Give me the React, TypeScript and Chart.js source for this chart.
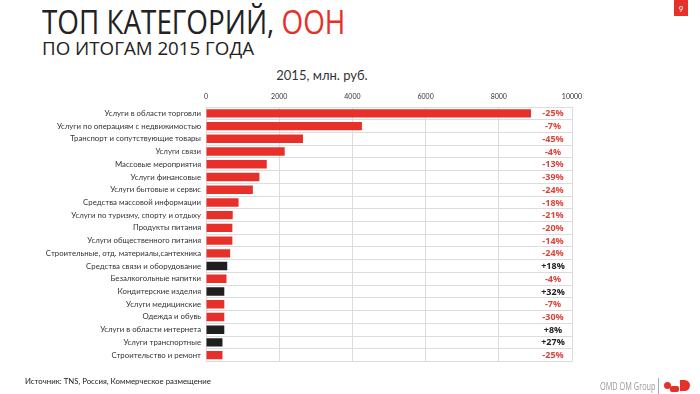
import React, { useEffect, useRef } from "react";
import { Chart, registerables } from "chart.js";

Chart.register(...registerables);

const categories = [
  "Услуги в области торговли",
  "Услуги по операциям с недвижимостью",
  "Транспорт и сопутствующие товары",
  "Услуги связи",
  "Массовые мероприятия",
  "Услуги финансовые",
  "Услуги бытовые и сервис",
  "Средства массовой информации",
  "Услуги по туризму, спорту и отдыху",
  "Продукты питания",
  "Услуги общественного питания",
  "Строительные, отд. материалы,сантехника",
  "Средства связи и оборудование",
  "Безалкогольные напитки",
  "Кондитерские изделия",
  "Услуги медицинские",
  "Одежда и обувь",
  "Услуги в области интернета",
  "Услуги транспортные",
  "Строительство и ремонт",
];

const values2015 = [8880, 4260, 2650, 2150, 1660, 1460, 1280, 890, 730, 720, 720, 660, 580, 560, 500, 500, 500, 500, 450, 450];

const changes = [-25, -7, -45, -4, -13, -39, -24, -18, -21, -20, -14, -24, 18, -4, 32, -7, -30, 8, 27, -25];

const xTicks = [0, 2000, 4000, 6000, 8000, 10000];

const RED = "#e8302a";
const DARK = "#1f1f1f";
const FONT = "Lato, 'Liberation Sans', sans-serif";

const labelPlugin = {
  id: "changeLabels",
  afterDatasetsDraw(chart: any) {
    const { ctx, chartArea, scales } = chart;
    ctx.save();
    ctx.font = `bold 9px 'Open Sans', sans-serif`;
    ctx.textAlign = "center";
    ctx.textBaseline = "middle";
    changes.forEach((c, i) => {
      const y = scales.y.getPixelForValue(i);
      ctx.fillStyle = c > 0 ? "#222222" : "#d9443b";
      ctx.fillText((c > 0 ? "+" : "") + c + "%", chartArea.right - 19, y + 0.5);
    });
    ctx.restore();
  },
};

function BarChart() {
  const ref = useRef<HTMLCanvasElement>(null);
  useEffect(() => {
    const chart = new Chart(ref.current!, {
      type: "bar",
      data: {
        labels: categories,
        datasets: [
          {
            data: values2015,
            backgroundColor: changes.map((c) => (c > 0 ? DARK : RED)),
            barPercentage: 0.66,
            categoryPercentage: 1,
          },
        ],
      },
      options: {
        indexAxis: "y",
        animation: false,
        responsive: false,
        maintainAspectRatio: false,
        layout: { padding: { left: 0, right: 128, top: 87, bottom: 32.5 } },
        plugins: { legend: { display: false }, tooltip: { enabled: false } },
        scales: {
          x: {
            position: "top",
            min: 0,
            max: 10000,
            afterBuildTicks(scale: any) {
              scale.ticks = xTicks.map((v) => ({ value: v }));
            },
            afterFit(scale: any) {
              scale.height = 20;
            },
            grid: { color: "#dcdcdc", drawTicks: false, lineWidth: 1 },
            border: { display: false },
            ticks: {
              font: { size: 7, family: FONT },
              color: "#333",
              padding: 6,
              maxRotation: 0,
              callback: (v: any) => String(v),
            },
          },
          y: {
            afterFit(scale: any) {
              scale.width = 206;
            },
            grid: { color: "#dcdcdc", drawTicks: false, offset: true },
            border: { color: "#dcdcdc" },
            ticks: { font: { size: 7.8, family: FONT }, color: "#333", padding: 5, autoSkip: false },
          },
        },
      },
      plugins: [labelPlugin],
    });
    return () => chart.destroy();
  }, []);
  return <canvas ref={ref} width={700} height={394} style={{ position: "absolute", left: 0, top: 0 }} />;
}

export default function App() {
  return (
    <div style={{ position: "fixed", left: 0, top: 0, width: 700, height: 394, background: "#fff", overflow: "hidden", fontFamily: FONT }}>
      <div style={{ position: "absolute", left: 42, top: 2, fontSize: 32, lineHeight: "40px", color: "#222", fontFamily: "'Open Sans', sans-serif", whiteSpace: "nowrap", transform: "scaleX(0.87)", transformOrigin: "0 0" }}>
        ТОП КАТЕГОРИЙ, <span style={{ color: RED }}>ООН</span>
      </div>
      <div style={{ position: "absolute", left: 42, top: 36, fontSize: 18, lineHeight: "24px", color: "#222", fontFamily: "'Open Sans', sans-serif", whiteSpace: "nowrap", transform: "scaleX(1.04)", transformOrigin: "0 0" }}>
        ПО ИТОГАМ 2015 ГОДА
      </div>
      <div style={{ position: "absolute", left: 0, width: 644, top: 66, textAlign: "center", fontSize: 13, lineHeight: "18px", color: "#333", whiteSpace: "nowrap" }}>
        2015, млн. руб.
      </div>
      <BarChart />
      <div style={{ position: "absolute", left: 674, top: 0, width: 14, height: 16, background: RED, color: "#fff", fontSize: 8, lineHeight: "18px", textAlign: "center" }}>9</div>
      <div style={{ position: "absolute", left: 25, top: 375, fontSize: 7.8, lineHeight: "12px", color: "#222", whiteSpace: "nowrap" }}>
        Источник: TNS, Россия, Коммерческое размещение
      </div>
      <div style={{ position: "absolute", left: 600, top: 379, fontSize: 10.5, lineHeight: "14px", color: "#999", whiteSpace: "nowrap", fontFamily: "'Open Sans', sans-serif", transform: "scaleX(0.7)", transformOrigin: "0 0" }}>
        OMD OM Group
      </div>
      <div style={{ position: "absolute", left: 658, top: 378, width: 1, height: 16, background: "#aaa" }} />
      <div style={{ position: "absolute", left: 664, top: 382, width: 7, height: 7, borderRadius: "50%", background: RED }} />
      <div style={{ position: "absolute", left: 670, top: 386, width: 9, height: 6, background: RED, borderRadius: "2px" }} />
      <div style={{ position: "absolute", left: 680, top: 380, width: 10, height: 11, borderRadius: "0 6px 6px 0", background: RED }} />
    </div>
  );
}
